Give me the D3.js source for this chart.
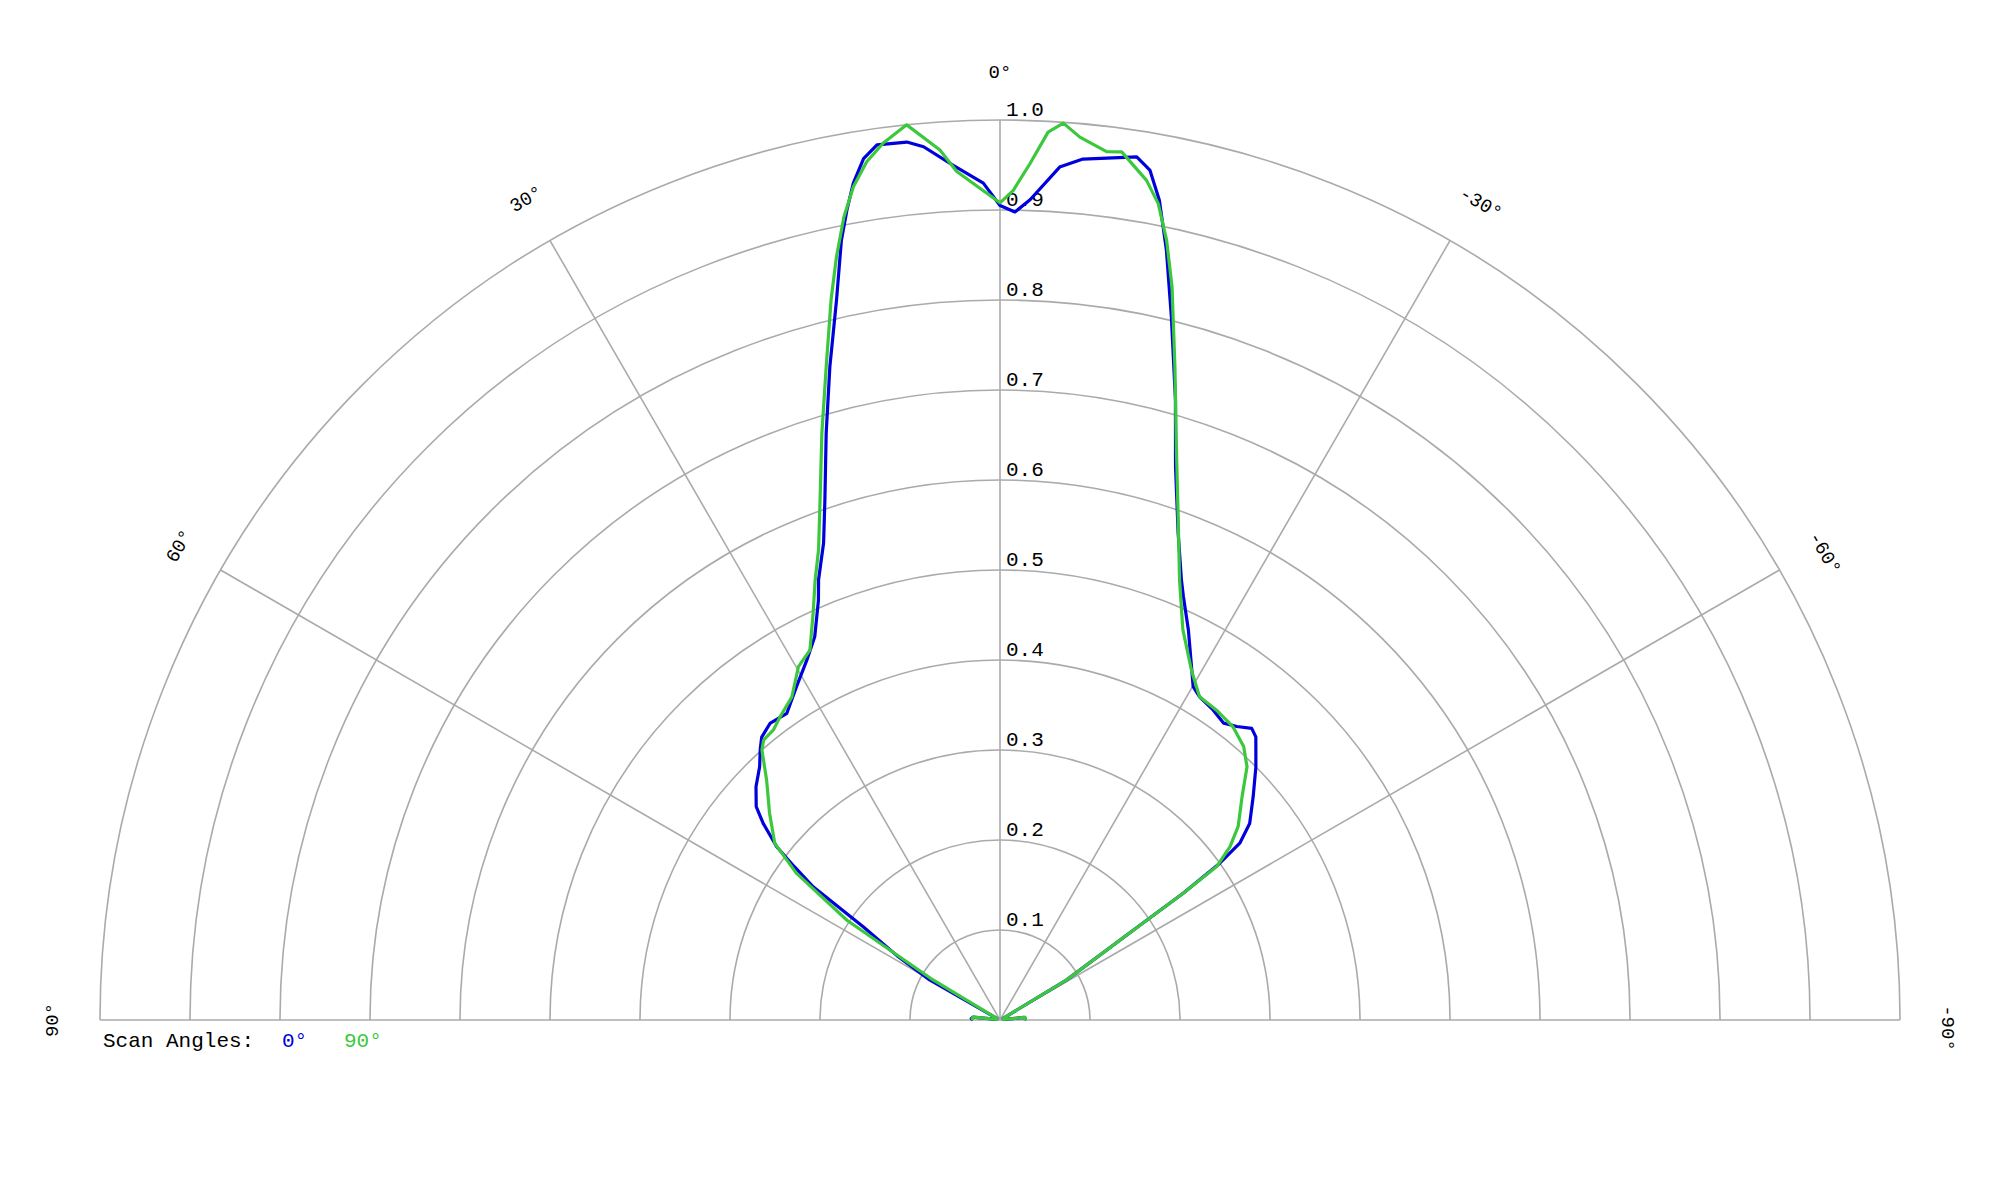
<!DOCTYPE html>
<html>
<head>
<meta charset="utf-8">
<script src="https://cdn.jsdelivr.net/npm/d3@7"></script>
<style>
   body { margin: 0; background: #fff; }
   svg text { font-family: "Courier New", "Liberation Mono", monospace; }
</style>
</head>
<body>
<div id="chart"></div>
<script>

// Ring ticks and angle ticks of the polar grid.
const ringTicks = [0.1, 0.2, 0.3, 0.4, 0.5, 0.6, 0.7, 0.8, 0.9, 1.0];
const angleTicks = [90, 60, 30, 0, -30, -60, -90];

// Scan angle 0° (blue), angle in degrees (positive = left), normalised value.
const scan0Angles = [90, 87, 84, 80, 62, 60.3, 58, 55.7, 54.5, 53.3, 52.2, 50.3, 48.8, 46.3, 43.5, 41.5,
   40.1, 37.8, 34.8, 31.4, 28.2, 25.8, 23.4, 22.4, 20.3, 18.6, 16.5, 14.6, 12.8, 11.5, 10.7, 9.94,
   9.0, 8.0, 6.06, 5.0, 3.13, 1.14, 0, -1.06, -2.1, -4.0, -5.5, -7.06, -9.0, -10.0, -11.0, -12.2,
   -13.7, -15.8, -17.6, -20.1, -22.4, -23.4, -25.8, -30.1, -31.7, -34.5, -37.0, -38.9, -40.8, -42.1,
   -45.3, -48.6, -51.8, -53.6, -54.5, -55.3, -56.0, -59.0, -61, -80, -84, -87, -90];
const scan0Values = [0.030, 0.032, 0.030, 0.004, 0.004, 0.090, 0.135, 0.184, 0.255, 0.285, 0.314, 0.342, 0.360, 0.375, 0.388, 0.402,
   0.411, 0.417, 0.415, 0.434, 0.454, 0.473, 0.508, 0.529, 0.565, 0.610, 0.680, 0.750, 0.820, 0.884, 0.916, 0.944,
   0.969, 0.982, 0.981, 0.974, 0.951, 0.930, 0.905, 0.898, 0.912, 0.950, 0.961, 0.965, 0.971, 0.959, 0.928, 0.875,
   0.804, 0.716, 0.645, 0.576, 0.529, 0.513, 0.481, 0.428, 0.422, 0.418, 0.413, 0.419, 0.428, 0.424,
   0.400, 0.375, 0.353, 0.331, 0.300, 0.248, 0.179, 0.086, 0.004, 0.004, 0.027, 0.028, 0.027];

// Scan angle 90° (green).
const scan90Angles = [90, 87, 84, 80, 62, 59, 56.9, 54.2, 51.9, 48.1, 44.2, 41.4, 40.2, 38.0, 36.0, 32.8,
   29.7, 27.2, 24.7, 22.8, 21.1, 19.1, 16.9, 14.9, 13.2, 12.1, 11.0, 9.98, 8.83, 7.58, 5.95, 3.95,
   2.92, 0, -0.92, -2.0, -3.1, -4.04, -5.17, -7.0, -7.98, -9.9, -10.97, -12.06, -13.2, -15.0, -17.2,
   -19.5, -22.2, -25.1, -28.7, -31.7, -34.9, -38.5, -41.7, -44.3, -47.3, -50.9, -53.0, -54.7, -55.3,
   -56.0, -59.0, -61, -80, -84, -87, -90];
const scan90Values = [0.030, 0.031, 0.030, 0.004, 0.004, 0.090, 0.203, 0.279, 0.318, 0.344, 0.372, 0.400, 0.407, 0.409, 0.416, 0.427,
   0.452, 0.462, 0.497, 0.530, 0.560, 0.611, 0.681, 0.751, 0.822, 0.867, 0.909, 0.940, 0.965, 0.983, 1.000, 0.969,
   0.944, 0.908, 0.922, 0.952, 0.988, 0.999, 0.985, 0.972, 0.974, 0.947, 0.924, 0.886, 0.837, 0.751, 0.663,
   0.593, 0.528, 0.479, 0.443, 0.422, 0.420, 0.416, 0.407, 0.393, 0.366, 0.341, 0.320, 0.295, 0.248,
   0.180, 0.086, 0.004, 0.004, 0.028, 0.028, 0.027];

const legendLabels = ["0°", "90°"];
const seriesColors = ["#0000dd", "#3cc83c"];

const width = 2000, height = 1200;
const cx = 1000, cy = 1020, radius = 900;

let svg = d3.select("#chart")
   .append("svg")
   .attr("width", width)
   .attr("height", height);

let g = svg.append("g")
   .attr("transform", "translate(" + cx + "," + cy + ")");

let r = d3.scaleLinear().domain([0, 1]).range([0, radius]);

// degrees (positive to the left of 0°) -> radians for d3 (clockwise from top)
let toRad = function(deg) { return -deg * Math.PI / 180; };

// Grid rings (upper half circles)
let arc = d3.arc()
   .startAngle(-Math.PI / 2)
   .endAngle(Math.PI / 2);
g.selectAll(".ring")
   .data(ringTicks)
   .enter()
   .append("path")
   .attr("class", "ring")
   .attr("d", function(d) { return arc({innerRadius: r(d), outerRadius: r(d)}); })
   .attr("fill", "none")
   .attr("stroke", "#aaaaaa")
   .attr("stroke-width", 1.6);

// Radial spokes
g.selectAll(".spoke")
   .data(angleTicks)
   .enter()
   .append("line")
   .attr("class", "spoke")
   .attr("x1", 0)
   .attr("y1", 0)
   .attr("x2", function(d) { return r(1) * Math.sin(toRad(d)); })
   .attr("y2", function(d) { return -r(1) * Math.cos(toRad(d)); })
   .attr("stroke", "#aaaaaa")
   .attr("stroke-width", 1.6);

// Ring labels along the 0° spoke
g.selectAll(".ringlabel")
   .data(ringTicks)
   .enter()
   .append("text")
   .attr("class", "ringlabel")
   .attr("x", 6)
   .attr("y", function(d) { return -r(d) - 4; })
   .attr("font-size", "21px")
   .attr("fill", "#000")
   .text(function(d) { return d.toFixed(1); });

// Angle labels, rotated tangent to the outer ring
let labelR = r(1) + 47;
g.selectAll(".anglelabel")
   .data(angleTicks)
   .enter()
   .append("text")
   .attr("class", "anglelabel")
   .attr("transform", function(d) {
      let a = toRad(d);
      let x = labelR * Math.sin(a), y = -labelR * Math.cos(a);
      return "translate(" + x + "," + y + ") rotate(" + (-d) + ")";
   })
   .attr("dx", function(d) { return d < 0 ? 8 : 0; })
   .attr("text-anchor", "middle")
   .attr("dominant-baseline", "central")
   .attr("font-family", "'Liberation Mono', monospace")
   .attr("font-size", "19px")
   .attr("fill", "#000")
   .text(function(d) { return d + "°"; });

// Pattern curves
let radialLine = d3.lineRadial()
   .angle(function(d) { return toRad(d[0]); })
   .radius(function(d) { return r(d[1]); });

let series = [
   d3.zip(scan0Angles, scan0Values),
   d3.zip(scan90Angles, scan90Values)
];

g.selectAll(".pattern")
   .data(series)
   .enter()
   .append("path")
   .attr("class", "pattern")
   .attr("d", radialLine)
   .attr("fill", "none")
   .attr("stroke", function(d, i) { return seriesColors[i]; })
   .attr("stroke-width", 3.2)
   .attr("stroke-linejoin", "round");

// Legend
let legendY = 1047;
svg.append("text")
   .attr("x", 103)
   .attr("y", legendY)
   .attr("font-size", "21px")
   .attr("fill", "#000")
   .text("Scan Angles:");
let legendX = [282, 344];
svg.selectAll(".legend")
   .data(legendLabels)
   .enter()
   .append("text")
   .attr("class", "legend")
   .attr("x", function(d, i) { return legendX[i]; })
   .attr("y", legendY)
   .attr("font-size", "21px")
   .attr("fill", function(d, i) { return seriesColors[i]; })
   .text(function(d) { return d; });

</script>
</body>
</html>
